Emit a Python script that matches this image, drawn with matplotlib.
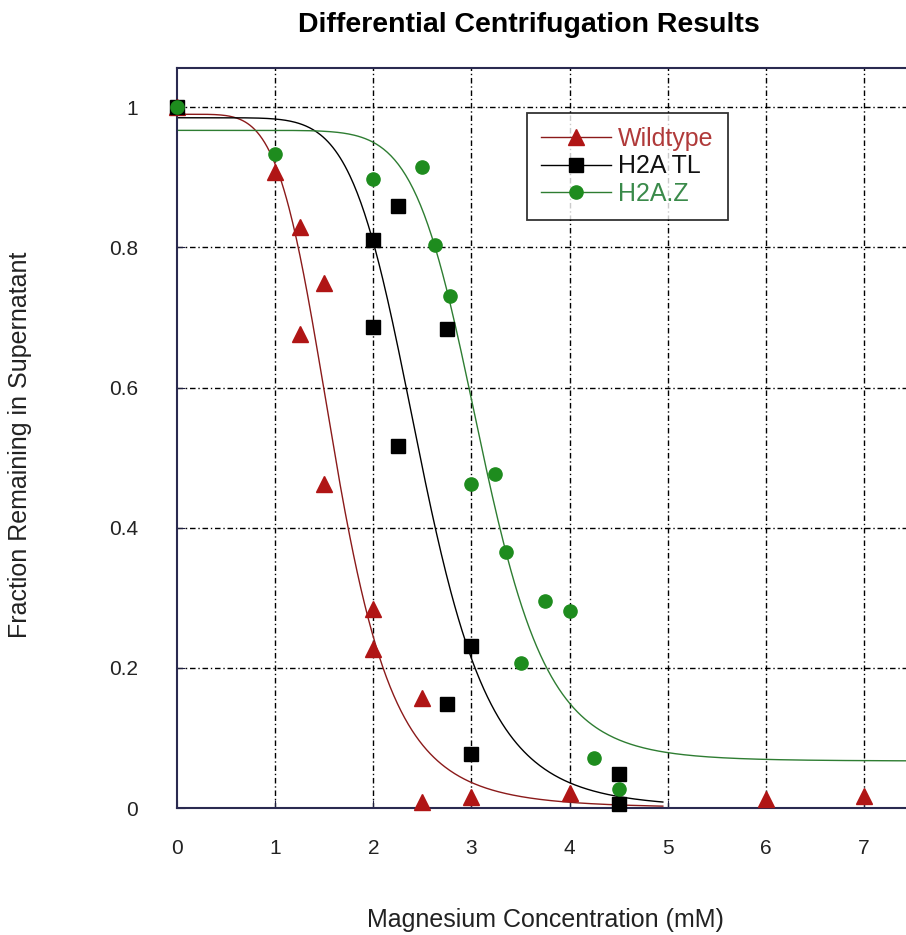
import numpy as np
import matplotlib
matplotlib.use("Agg")
import matplotlib.pyplot as plt

plt.rcParams['font.family'] = ['Liberation Sans', 'DejaVu Sans']

# Data points
wt_x = [0, 1.0, 1.25, 1.5, 1.25, 1.5, 2.0, 2.0, 2.5, 2.5, 3.0, 4.0, 6.0, 7.0]
wt_y = [1.0, 0.907, 0.829, 0.749, 0.677, 0.463, 0.284, 0.227, 0.157, 0.008, 0.015, 0.021, 0.013, 0.017]

tl_x = [0, 2.0, 2.25, 2.0, 2.75, 2.25, 3.0, 2.75, 3.0, 4.5, 4.5]
tl_y = [1.0, 0.810, 0.859, 0.687, 0.684, 0.516, 0.231, 0.149, 0.077, 0.049, 0.006]

z_x = [0, 1.0, 2.0, 2.5, 2.63, 2.78, 3.0, 3.24, 3.35, 3.75, 4.0, 3.5, 4.25, 4.5]
z_y = [1.0, 0.933, 0.898, 0.915, 0.803, 0.731, 0.463, 0.477, 0.366, 0.296, 0.281, 0.207, 0.071, 0.027]

# Hill fit parameters (top, bottom, x50, slope, x range end)
wt_fit = (0.99, 0.0, 1.62, 5.3, 4.95)
tl_fit = (0.985, 0.0, 2.49, 6.9, 4.95)
z_fit = (0.967, 0.067, 3.1, 9.0, 7.5)

x_ticks = [0, 1, 2, 3, 4, 5, 6, 7]
y_ticks = [0, 0.2, 0.4, 0.6, 0.8, 1.0]
y_tick_labels = ["0", "0.2", "0.4", "0.6", "0.8", "1"]

labels = ["Wildtype", "H2A TL", "H2A.Z"]
c_wt = "#b01515"
c_wt_line = "#8b1a1a"
c_tl = "#000000"
c_z = "#1e8c1e"
c_z_line = "#2e7d32"
c_wt_text = "#b03a3a"
c_z_text = "#3a8a4a"


def hill(x, top, bottom, x50, n):
    x = np.asarray(x, dtype=float)
    return bottom + (top - bottom) / (1.0 + (x / x50) ** n)


fig = plt.figure(figsize=(9.06, 9.35), dpi=100)
W, H = 906, 935
left_px, right_px, top_px, bot_px = 177, 177 + 7.5 * 98.15, 68, 808
ax = fig.add_axes([left_px / W, 1 - bot_px / H, (right_px - left_px) / W, (bot_px - top_px) / H])

ax.set_xlim(0, 7.5)
ax.set_ylim(0, 1.056)

grid_kw = dict(color="black", lw=1.0, linestyle=(0, (4, 2, 1, 2)), zorder=1)
for xv in x_ticks[1:]:
    ax.axvline(xv, **grid_kw)
for yv in y_ticks[1:]:
    ax.axhline(yv, **grid_kw)

# fit curves
for fit, col in [(wt_fit, c_wt_line), (tl_fit, c_tl), (z_fit, c_z_line)]:
    top, bottom, x50, n, xend = fit
    xs = np.linspace(0, xend, 400)
    ax.plot(xs, hill(xs, top, bottom, x50, n), color=col, lw=1.0, zorder=2)

ax.plot(wt_x, wt_y, linestyle="none", marker="^", ms=11.5, color=c_wt, zorder=3, clip_on=False)
ax.plot(tl_x, tl_y, linestyle="none", marker="s", ms=10.5, color=c_tl, zorder=4, clip_on=False)
ax.plot(z_x, z_y, linestyle="none", marker="o", ms=9.5, color=c_z, zorder=5, clip_on=False)

# legend
h1, = ax.plot([], [], color=c_wt_line, lw=1, marker="^", ms=11.5, mfc=c_wt, mec=c_wt)
h2, = ax.plot([], [], color=c_tl, lw=1, marker="s", ms=10.5)
h3, = ax.plot([], [], color=c_z_line, lw=1, marker="o", ms=9.5, mfc=c_z, mec=c_z)
leg = ax.legend([h1, h2, h3], labels, loc="upper left",
                bbox_to_anchor=((527 - left_px) / (right_px - left_px), 1 - (113 - top_px) / (bot_px - top_px)),
                frameon=True, fancybox=False, edgecolor="black", fontsize=18,
                handlelength=2.8, handletextpad=0.3, borderpad=0.55, labelspacing=0.15,
                borderaxespad=0)
leg.get_frame().set_linewidth(1.3)
for txt, col in zip(leg.get_texts(), [c_wt_text, "#111111", c_z_text]):
    txt.set_color(col)

ax.set_xticks(x_ticks)
ax.set_yticks(y_ticks)
ax.set_yticklabels(y_tick_labels)
ax.tick_params(direction="in", length=6, labelsize=15, colors="#202040", labelcolor="#222222")
ax.tick_params(axis="x", pad=22)
ax.tick_params(axis="y", pad=28)

for s in ["left", "bottom", "top"]:
    ax.spines[s].set_color("#2a2a50")
    ax.spines[s].set_linewidth(1.5)
ax.spines["right"].set_visible(False)

fig.text(529 / W, 1 - 25 / H, "Differential Centrifugation Results", ha="center", va="center",
         fontsize=20.5, fontweight="bold")
fig.text(545 / W, 1 - 920 / H, "Magnesium Concentration (mM)", ha="center", va="center", fontsize=18,
         color="#222222")
fig.text(20 / W, 1 - 445 / H, "Fraction Remaining in Supernatant", ha="center", va="center",
         rotation=90, fontsize=18, color="#222222")

fig.savefig("out.png", dpi=100)
